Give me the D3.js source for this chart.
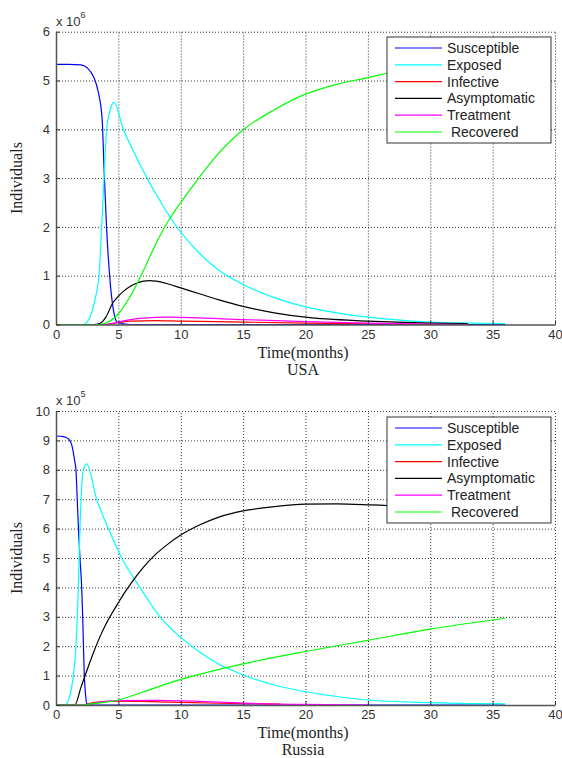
<!DOCTYPE html>
<html>
<head>
<meta charset="utf-8">
<script src="https://d3js.org/d3.v7.min.js"></script>
<style>
  body { margin: 0; background: #fff; }
  svg { display: block; }
  .tick text { font-family: "Liberation Sans", Arial, sans-serif; font-size: 13px; fill: #333; }
  .lab { font-family: "Liberation Serif", "Times New Roman", serif; font-size: 16px; fill: #222; }
  .leg { font-family: "Liberation Sans", Arial, sans-serif; font-size: 14px; fill: #222; }
</style>
</head>
<body>
<div id="chart"></div>
<script>
// series names and colours (legend order)
const names = ["Susceptible", "Exposed", "Infective", "Asymptomatic", "Treatment", " Recovered"];
const colors = ["#0000ff", "#00ffff", "#ff0000", "#000000", "#ff00ff", "#00ff00"];

const xTicks = [0, 5, 10, 15, 20, 25, 30, 35, 40];
const usaYTicks = [0, 1, 2, 3, 4, 5, 6];
const rusYTicks = [0, 1, 2, 3, 4, 5, 6, 7, 8, 9, 10];

// USA, values in units of 10^6, [month, value]
const usaSusceptible = [[0,5.33],[1,5.33],[2,5.32],[2.5,5.26],[3,5.08],[3.4,4.75],[3.7,4.2],[3.85,3.2],[4.05,2.0],[4.3,1.0],[4.6,0.3],[4.9,0.05],[5.5,0.01],[6,0],[36,0]];
const usaExposed = [[0,0],[2.2,0],[2.8,0.2],[3.2,0.6],[3.45,1.0],[3.66,2.0],[3.85,3.0],[4.06,4.0],[4.35,4.4],[4.65,4.55],[5.4,4.0],[6.3,3.5],[7.3,3.0],[8.3,2.55],[9.4,2.1],[11.5,1.46],[13,1.12],[15,0.82],[17.5,0.55],[20,0.36],[22.5,0.24],[25,0.15],[30,0.05],[33,0.03],[36,0.02]];
const usaInfective = [[0,0],[4,0],[5,0.04],[6,0.07],[8,0.08],[10,0.07],[15,0.05],[20,0.03],[25,0.015],[30,0.005],[33,0]];
const usaAsymptomatic = [[0,0],[3,0],[3.5,0.02],[4,0.15],[4.5,0.42],[5,0.58],[5.5,0.7],[6,0.79],[6.5,0.85],[7,0.89],[7.5,0.9],[8,0.89],[9,0.83],[10,0.75],[11.5,0.63],[13,0.51],[15,0.37],[17.5,0.24],[20,0.15],[25,0.07],[30,0.03],[33,0.02]];
const usaTreatment = [[0,0],[4,0],[5,0.05],[6,0.1],[7,0.13],[9,0.15],[11,0.14],[15,0.1],[20,0.06],[25,0.03],[30,0.01],[33,0]];
const usaRecovered = [[0,0],[3.5,0],[4,0.03],[5,0.22],[6,0.6],[7,1.1],[8,1.65],[9,2.12],[10,2.5],[11,2.85],[12.5,3.35],[15,3.99],[17.5,4.4],[20,4.72],[22.5,4.92],[25,5.06],[27.5,5.2],[30,5.28],[33,5.33],[36,5.36]];

// Russia, values in units of 10^5, [month, value]
const rusSusceptible = [[0,9.15],[0.6,9.13],[1.0,9.05],[1.26,8.85],[1.5,8.3],[1.6,8.0],[1.7,7.0],[1.8,6.0],[1.92,5.0],[2.06,4.0],[2.14,3.0],[2.2,2.0],[2.27,1.0],[2.38,0.3],[2.46,0.05],[3,0],[36,0]];
const rusExposed = [[0,0],[0.72,0],[1.1,0.3],[1.39,1.0],[1.6,2.0],[1.79,4.0],[1.92,6.0],[2.19,8.0],[2.46,8.2],[3.26,7.0],[4.2,6.0],[5.27,5.0],[6.73,4.0],[8.34,3.0],[10,2.3],[11.5,1.8],[13,1.4],[15,1.02],[17.5,0.68],[20,0.45],[22.5,0.29],[25,0.17],[30,0.08],[33,0.05],[36,0.04]];
const rusInfective = [[0,0],[2,0],[3,0.08],[4,0.12],[5,0.13],[7,0.12],[10,0.09],[13,0.06],[15,0.05],[18,0.03]];
const rusAsymptomatic = [[0,0],[1.5,0],[2,0.6],[2.5,1.2],[3,1.78],[3.5,2.3],[4,2.75],[4.5,3.13],[5,3.48],[5.5,3.82],[6,4.13],[7,4.68],[8,5.13],[9,5.48],[10,5.78],[11.5,6.12],[13,6.38],[15,6.6],[17.5,6.75],[20,6.83],[22.5,6.84],[25,6.81],[27.5,6.76],[30,6.66],[33,6.48],[36,6.2]];
const rusTreatment = [[0,0],[2.5,0],[3.5,0.1],[5,0.15],[8,0.16],[11,0.13],[13,0.1],[16,0.05],[20,0.02],[25,0]];
const rusRecovered = [[0,0],[2,0],[3,0.05],[4,0.1],[5,0.17],[7,0.45],[10,0.87],[15,1.4],[20,1.82],[25,2.2],[30,2.58],[36,2.95]];

const W = 562, H = 758;
const svg = d3.select("#chart").append("svg").attr("width", W).attr("height", H);

const x = d3.scaleLinear().domain([0, 40]).range([56, 555]);

function panel(cfg) {
  const y = d3.scaleLinear().domain([0, cfg.yMax]).range([cfg.y0, cfg.y1]);
  const g = svg.append("g");

  // dotted grid
  g.append("g").attr("transform", `translate(0,${cfg.y0})`)
    .call(d3.axisBottom(x).tickValues(xTicks.slice(1)).tickSize(-(cfg.y0 - cfg.y1)).tickFormat(""))
    .call(s => s.select(".domain").remove())
    .selectAll("line").attr("stroke", "#333").attr("stroke-dasharray", "1,2");
  g.append("g").attr("transform", "translate(56,0)")
    .call(d3.axisLeft(y).tickValues(cfg.yTicks.slice(1)).tickSize(-(555 - 56)).tickFormat(""))
    .call(s => s.select(".domain").remove())
    .selectAll("line").attr("stroke", "#333").attr("stroke-dasharray", "1,2");

  // curves
  const line = d3.line().x(d => x(d[0])).y(d => y(d[1])).curve(d3.curveMonotoneX);
  cfg.series.forEach((s, i) => {
    g.append("path").datum(s).attr("d", line)
      .attr("fill", "none").attr("stroke", colors[i]).attr("stroke-width", 1.2);
  });

  // axes
  const xa = g.append("g").attr("transform", `translate(0,${cfg.y0})`)
    .call(d3.axisBottom(x).tickValues(xTicks).tickFormat(d3.format("d"))
      .tickSizeInner(-4).tickSizeOuter(0).tickPadding(5));
  const ya = g.append("g").attr("transform", "translate(56,0)")
    .call(d3.axisLeft(y).tickValues(cfg.yTicks).tickFormat(d3.format("d"))
      .tickSizeInner(-4).tickSizeOuter(0).tickPadding(6));
  [xa, ya].forEach(a => {
    a.select(".domain").attr("stroke", "#555").attr("stroke-width", 1.5);
    a.selectAll(".tick line").attr("stroke", "#333");
  });

  // exponent
  const ex = g.append("text").attr("x", 56).attr("y", cfg.y1 - 6)
    .attr("font-family", "Liberation Sans, Arial, sans-serif").attr("font-size", 13).attr("fill", "#333");
  ex.append("tspan").text("x 10");
  ex.append("tspan").attr("dy", -8).attr("font-size", 9).text(cfg.exp);

  // labels
  g.append("text").attr("class", "lab").attr("text-anchor", "middle")
    .attr("transform", `translate(22,${(cfg.y0 + cfg.y1) / 2}) rotate(-90)`).text("Individuals");
  g.append("text").attr("class", "lab").attr("text-anchor", "middle")
    .attr("x", 303).attr("y", cfg.y0 + 33).text("Time(months)");
  g.append("text").attr("class", "lab").attr("text-anchor", "middle")
    .attr("x", 303).attr("y", cfg.y0 + 50).text(cfg.title);

  // legend
  const lg = g.append("g").attr("transform", `translate(387,${cfg.legY})`);
  lg.append("rect").attr("width", 164).attr("height", 106)
    .attr("fill", "#fff").attr("stroke", "#333").attr("stroke-width", 1);
  names.forEach((n, i) => {
    const yy = 11 + i * 16.8;
    lg.append("line").attr("x1", 8).attr("x2", 55).attr("y1", yy).attr("y2", yy)
      .attr("stroke", colors[i]).attr("stroke-width", 1.2);
    lg.append("text").attr("class", "leg").attr("x", 60).attr("y", yy + 5)
      .attr("xml:space", "preserve").style("white-space", "pre").text(n);
  });
}

panel({ y0: 324.5, y1: 31.7, yMax: 6, yTicks: usaYTicks, exp: "6", title: "USA", legY: 37,
  series: [usaSusceptible, usaExposed, usaInfective, usaAsymptomatic, usaTreatment, usaRecovered] });
panel({ y0: 705, y1: 411, yMax: 10, yTicks: rusYTicks, exp: "5", title: "Russia", legY: 417,
  series: [rusSusceptible, rusExposed, rusInfective, rusAsymptomatic, rusTreatment, rusRecovered] });
</script>
</body>
</html>
